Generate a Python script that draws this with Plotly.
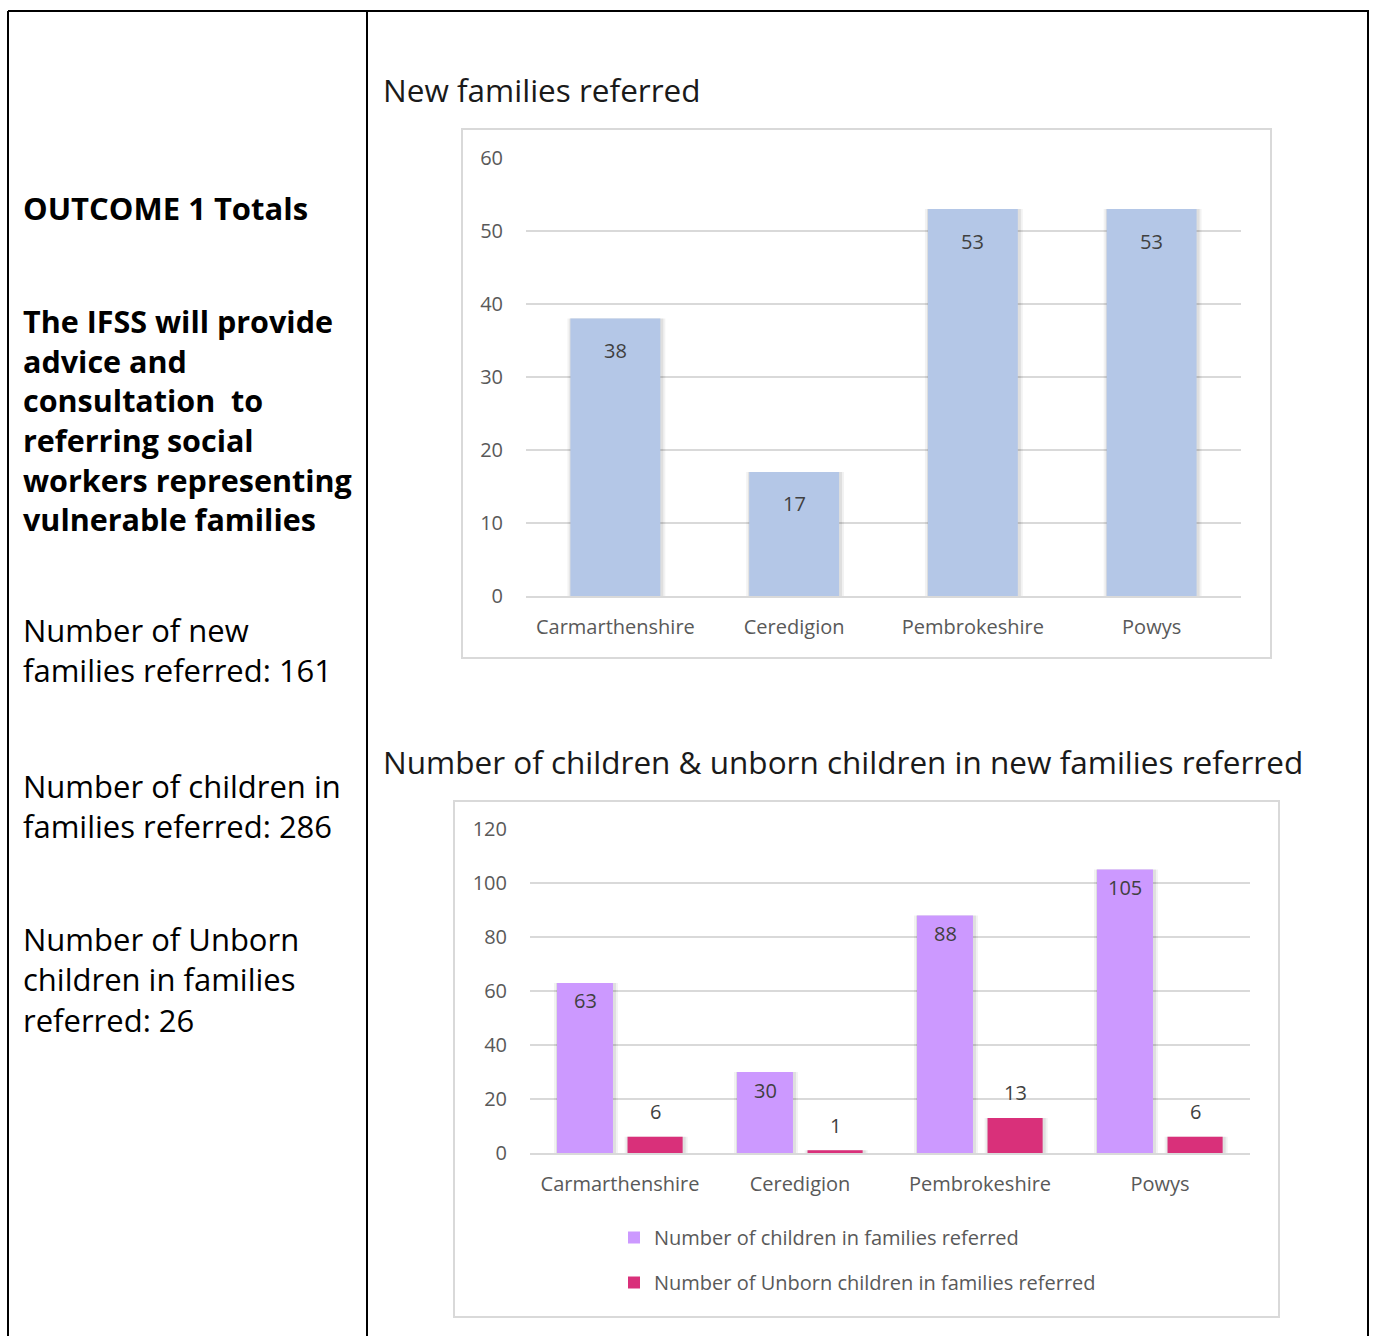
import plotly.graph_objects as go

# ---- data ----
areas = ["Carmarthenshire", "Ceredigion", "Pembrokeshire", "Powys"]
new_families = [38, 17, 53, 53]
children = [63, 30, 88, 105]
unborn = [6, 1, 13, 6]

summary_heading = "OUTCOME 1 Totals"
summary_aim = ["The IFSS will provide", "advice and", "consultation  to",
               "referring social", "workers representing", "vulnerable families"]
summary_lines = [
    ["Number of new", "families referred: 161"],
    ["Number of children in", "families referred: 286"],
    ["Number of Unborn", "children in families", "referred: 26"],
]

W, H = 1373, 1336


def px(x):
    return x / W


def py(y):
    return 1 - y / H


BLUE = "#B4C7E7"
PURPLE = "#CC99FF"
PINK = "#D9307A"
GRID = "#D9D9D9"
TXT = "#595959"
LBL = "#404040"
CHART_FONT = "Open Sans"
SIDE_FONT = "Open Sans"

fig = go.Figure()


def shadowed_bars(x, y, color, width, offset, xa, ya, unit_px, **kw):
    """Bar trace preceded by two soft grey layers that act as a drop shadow."""
    for grow, alpha in ((4, 0.05), (2, 0.08)):
        g = grow / unit_px
        fig.add_trace(go.Bar(
            x=x, y=y, width=width + 2 * g, offset=offset - g + 1 / unit_px,
            marker=dict(color=f"rgba(0,0,0,{alpha})", line=dict(width=0)),
            showlegend=False, hoverinfo="skip", xaxis=xa, yaxis=ya))
    fig.add_trace(go.Bar(
        x=x, y=y, width=width, offset=offset,
        marker=dict(color=color, line=dict(width=0)),
        xaxis=xa, yaxis=ya, **kw))


# chart 1: new families referred (one category = 179 px)
shadowed_bars(areas, new_families, BLUE, 0.503, -0.2515, "x", "y", 179,
              showlegend=False)

# chart 2: children and unborn children (one category = 180 px)
shadowed_bars(areas, children, PURPLE, 0.311, -0.35, "x2", "y2", 180,
              name="Number of children in families referred", legendgroup="a")
shadowed_bars(areas, unborn, PINK, 0.306, 0.042, "x2", "y2", 180,
              name="Number of Unborn children in families referred", legendgroup="b")

annotations = []

# value labels, chart 1 (inside end)
for a, v in zip(areas, new_families):
    annotations.append(dict(x=a, y=v, xref="x", yref="y", text=str(v),
                            showarrow=False, yanchor="middle", yshift=-32,
                            font=dict(family=CHART_FONT, size=20, color=LBL)))


# value labels, chart 2 (inside end for tall bars, above short ones)
def bar_label(a, v, shift):
    inside = v >= 20
    return dict(x=a, y=v, xref="x2", yref="y2", text=str(v), showarrow=False,
                yanchor="middle", yshift=-18 if inside else 25, xshift=shift,
                font=dict(family=CHART_FONT, size=20, color=LBL))


for a, v in zip(areas, children):
    annotations.append(bar_label(a, v, -35))
for a, v in zip(areas, unborn):
    annotations.append(bar_label(a, v, 35))

# chart titles
title_font = dict(family=SIDE_FONT, size=31.5, color="#1a1a1a")
annotations.append(dict(x=px(381), y=py(90), xref="paper", yref="paper",
                        text="New families referred", showarrow=False,
                        xanchor="left", yanchor="middle", font=title_font))
annotations.append(dict(x=px(381), y=py(761), xref="paper", yref="paper",
                        text="Number of children &amp; unborn children in new families referred",
                        showarrow=False, xanchor="left", yanchor="middle",
                        font=title_font))


# left column text: one multi-line block per paragraph, centred on its lines
def text_block(lines, first_line_y, size, bold=False):
    mid = first_line_y + (len(lines) - 1) * 37.5 / 2
    body = "<br>".join(lines)
    if bold:
        body = "<b>" + body + "</b>"
    return dict(x=px(21), y=py(mid), xref="paper", yref="paper", text=body,
                showarrow=False, xanchor="left", yanchor="middle", align="left",
                font=dict(family=SIDE_FONT, size=size, color="#000000"))


annotations.append(text_block([summary_heading], 208, 31, bold=True))
annotations.append(text_block(summary_aim, 326, 30.5, bold=True))
for top, lines in zip([631, 787, 942], summary_lines):
    annotations.append(text_block(lines, top, 31))

shapes = [
    # table grid
    dict(type="line", xref="paper", yref="paper", x0=px(8), x1=px(1369), y0=py(11), y1=py(11),
         line=dict(color="black", width=2)),
    dict(type="line", xref="paper", yref="paper", x0=px(8), x1=px(8), y0=py(11), y1=py(1345),
         line=dict(color="black", width=2)),
    dict(type="line", xref="paper", yref="paper", x0=px(367), x1=px(367), y0=py(11), y1=py(1345),
         line=dict(color="black", width=2)),
    dict(type="line", xref="paper", yref="paper", x0=px(1368), x1=px(1368), y0=py(11), y1=py(1345),
         line=dict(color="black", width=2)),
    # chart frames
    dict(type="rect", xref="paper", yref="paper", x0=px(462), x1=px(1271), y0=py(129), y1=py(658),
         line=dict(color=GRID, width=2), layer="below"),
    dict(type="rect", xref="paper", yref="paper", x0=px(454), x1=px(1279), y0=py(801), y1=py(1317),
         line=dict(color=GRID, width=2), layer="below"),
]

axis_font = dict(family=CHART_FONT, size=20, color=TXT)

fig.update_layout(
    width=W, height=H,
    margin=dict(l=0, r=0, t=0, b=0, autoexpand=False),
    paper_bgcolor="white", plot_bgcolor="rgba(0,0,0,0)",
    barmode="overlay",
    xaxis=dict(domain=[px(526), px(1241)], anchor="y", showgrid=False,
               showline=True, linecolor=GRID, linewidth=2, ticks="outside",
               ticklen=12, tickcolor="rgba(0,0,0,0)", tickfont=axis_font,
               fixedrange=True, automargin=False),
    yaxis=dict(domain=[py(596), py(158)], anchor="x", range=[0, 60], dtick=10,
               showgrid=True, gridcolor=GRID, gridwidth=2, zeroline=False,
               showline=False, ticks="outside", ticklen=18,
               tickcolor="rgba(0,0,0,0)", tickfont=axis_font, fixedrange=True,
               automargin=False),
    xaxis2=dict(domain=[px(530), px(1250)], anchor="y2", showgrid=False,
                showline=True, linecolor=GRID, linewidth=2, ticks="outside",
                ticklen=12, tickcolor="rgba(0,0,0,0)", tickfont=axis_font,
                fixedrange=True, automargin=False),
    yaxis2=dict(domain=[py(1153), py(829)], anchor="x2", range=[0, 120], dtick=20,
                showgrid=True, gridcolor=GRID, gridwidth=2, zeroline=False,
                showline=False, ticks="outside", ticklen=18,
                tickcolor="rgba(0,0,0,0)", tickfont=axis_font, fixedrange=True,
                automargin=False),
    legend=dict(x=px(614), y=py(1218), xanchor="left", yanchor="top",
                orientation="v", traceorder="grouped", tracegroupgap=16,
                font=dict(family=CHART_FONT, size=20, color=TXT),
                bgcolor="rgba(0,0,0,0)"),
    annotations=annotations,
    shapes=shapes,
)

fig.write_html("out.html")
